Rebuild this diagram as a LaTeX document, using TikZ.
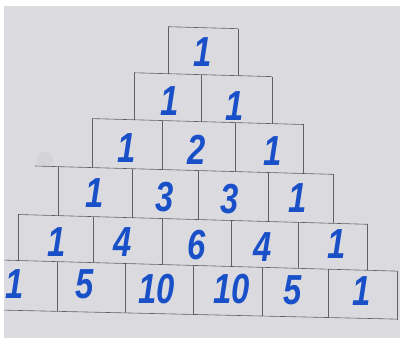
\documentclass[tikz,border=0pt]{standalone}
\usepackage{fontspec}
\setmainfont{Liberation Sans}
\definecolor{paper}{RGB}{218,218,223}
\definecolor{ink}{RGB}{25,80,200}
\definecolor{pencil}{RGB}{95,95,100}
\begin{document}
\begin{tikzpicture}[x=1pt,y=-1pt,
  num/.style={text=ink,inner sep=0pt,font=\fontsize{42}{42}\selectfont\itshape},
  grid/.style={draw=pencil,line width=0.6pt}]
\useasboundingbox (0,0) rectangle (400,338);
\fill[white] (0,0) rectangle (400,338);
\fill[paper] (4,6) rectangle (400,338);
\fill[gray!50,opacity=0.2] (45,160) circle[radius=8];
\begin{scope}[yslant=-0.028]
  % horizontal lines
  \draw[grid] (168,22) -- (238,22);
  \draw[grid] (134,69) -- (272,69);
  \draw[grid] (92,116) -- (303,116);
  \draw[grid] (35,165) -- (333,165);
  \draw[grid] (18,214) -- (367,214);
  \draw[grid] (4,260) -- (397,260);
  \draw[grid] (4,310) -- (397,308);
  % row 0
  \foreach \x in {168,238} \draw[grid] (\x,22) -- (\x,69);
  % row 1
  \foreach \x in {134,201,272} \draw[grid] (\x,69) -- (\x,116);
  % row 2
  \foreach \x in {92,162,235,303} \draw[grid] (\x,116) -- (\x,165);
  % row 3
  \foreach \x in {58,132,198,268,333} \draw[grid] (\x,165) -- (\x,214);
  % row 4
  \foreach \x in {18,93,162,231,298,367} \draw[grid] (\x,214) -- (\x,260);
  % row 5
  \foreach \x in {57,125,193,262,328,397} \draw[grid] (\x,260) -- (\x,309);
\end{scope}
\newcommand{\hw}[1]{\scalebox{0.78}[1]{\textbf{#1}}}
\node[num] (n00) at (203,52) {\hw{1}};
\node[num] (n10) at (170,101) {\hw{1}};
\node[num] (n11) at (235,106) {\hw{1}};
\node[num] (n20) at (127,148) {\hw{1}};
\node[num] (n21) at (197,150) {\hw{2}};
\node[num] (n22) at (273,151) {\hw{1}};
\node[num] (n30) at (95,193) {\hw{1}};
\node[num] (n31) at (165,197) {\hw{3}};
\node[num] (n32) at (230,199) {\hw{3}};
\node[num] (n33) at (298,198) {\hw{1}};
\node[num] (n40) at (57,242) {\hw{1}};
\node[num] (n41) at (123,242) {\hw{4}};
\node[num] (n42) at (197,245) {\hw{6}};
\node[num] (n43) at (263,247) {\hw{4}};
\node[num] (n44) at (337,244) {\hw{1}};
\node[num] (n50) at (15,284) {\hw{1}};
\node[num] (n51) at (85,284) {\hw{5}};
\node[num] (n52) at (157,289) {\hw{10}};
\node[num] (n53) at (232,289) {\hw{10}};
\node[num] (n54) at (293,290) {\hw{5}};
\node[num] (n55) at (362,291) {\hw{1}};
\end{tikzpicture}
\end{document}
